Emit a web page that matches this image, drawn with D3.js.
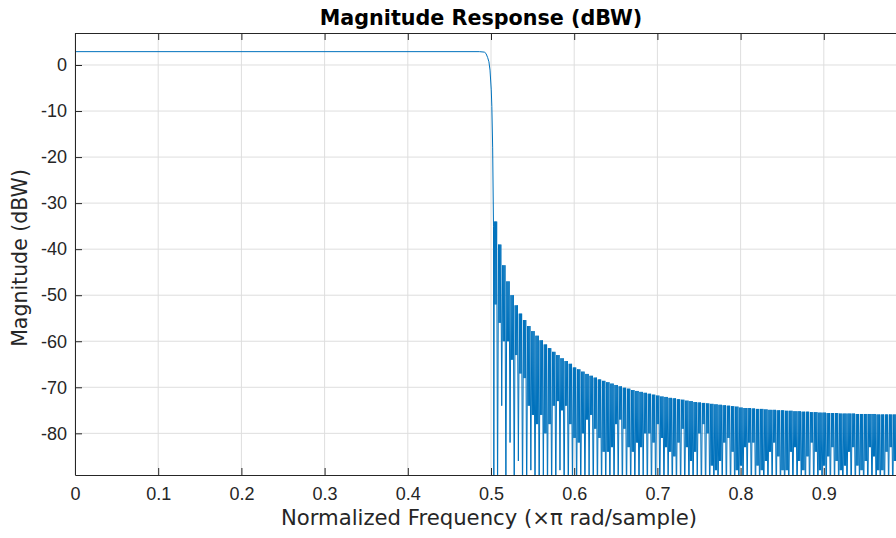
<!DOCTYPE html>
<html>
<head>
<meta charset="utf-8">
<script src="https://cdn.jsdelivr.net/npm/d3@7"></script>
<style>
    body { margin: 0; background: #fff; }
    svg { display: block; font-family: "DejaVu Sans", sans-serif; }
    .axis text { font-size: 18px; fill: #262626; }
    .axis path, .axis line { stroke: #262626; }
    .grid line { stroke: #dedede; }
    .axis-title { font-size: 21.2px; fill: #262626; }
    .chart-title { font-size: 20.7px; font-weight: bold; fill: #000; }
</style>
</head>
<body>
<svg id="chart"></svg>
<script>
// tick values and labels (the tick at 1 falls past the figure edge)
const xTicks = [0, 0.1, 0.2, 0.3, 0.4, 0.5, 0.6, 0.7, 0.8, 0.9, 1]
const xTickLabels = ['0', '0.1', '0.2', '0.3', '0.4', '0.5', '0.6', '0.7', '0.8', '0.9', '']
const yTicks = [0, -10, -20, -30, -40, -50, -60, -70, -80]
const yTickLabels = ['0', '-10', '-20', '-30', '-40', '-50', '-60', '-70', '-80']

// passband + transition (normalized freq, dBW)
const passFreq = [0, 0.486, 0.492, 0.494, 0.496, 0.4975, 0.4988, 0.5003, 0.501, 0.502, 0.503, 0.5034]
const passDb = [2.9, 2.9, 2.8, 2.5, 1.6, 0.7, -1.1, -5.4, -9, -18, -35, -95]

// stopband lobes: start freq of each lobe, lobe peak, bottom of the dense part, null depth
const lobeFreq = [
    0.504, 0.509, 0.514, 0.519, 0.524, 0.529, 0.534, 0.539, 0.544, 0.549,
    0.554, 0.559, 0.564, 0.569, 0.574, 0.579, 0.584, 0.589, 0.594, 0.599,
    0.604, 0.609, 0.614, 0.619, 0.624, 0.629, 0.634, 0.639, 0.644, 0.649,
    0.654, 0.659, 0.664, 0.669, 0.674, 0.679, 0.684, 0.689, 0.694, 0.699,
    0.704, 0.709, 0.714, 0.719, 0.724, 0.729, 0.734, 0.739, 0.744, 0.749,
    0.754, 0.759, 0.764, 0.769, 0.774, 0.779, 0.784, 0.789, 0.794, 0.799,
    0.804, 0.809, 0.814, 0.819, 0.824, 0.829, 0.834, 0.839, 0.844, 0.849,
    0.854, 0.859, 0.864, 0.869, 0.874, 0.879, 0.884, 0.889, 0.894, 0.899,
    0.904, 0.909, 0.914, 0.919, 0.924, 0.929, 0.934, 0.939, 0.944, 0.949,
    0.954, 0.959, 0.964, 0.969, 0.974, 0.979, 0.984, 0.989, 0.994, 0.999
]
const lobePeak = [
    -34, -39, -43.5, -47, -50, -52.2, -54, -55.4, -56.7, -57.8,
    -58.8, -59.8, -60.7, -61.5, -62.3, -63, -63.7, -64.3, -64.9, -65.7,
    -66.1, -66.6, -67.1, -67.5, -67.9, -68.3, -68.6, -68.9, -69.2, -69.5,
    -69.8, -70.1, -70.3, -70.6, -70.8, -71, -71.2, -71.4, -71.6, -71.8,
    -72, -72.1, -72.3, -72.4, -72.6, -72.7, -72.9, -73, -73.2, -73.3,
    -73.4, -73.5, -73.6, -73.7, -73.8, -73.9, -74, -74.1, -74.2, -74.4,
    -74.5, -74.5, -74.6, -74.7, -74.7, -74.8, -74.9, -74.9, -75, -75,
    -75.1, -75.1, -75.2, -75.2, -75.3, -75.3, -75.4, -75.4, -75.5, -75.5,
    -75.6, -75.6, -75.6, -75.7, -75.7, -75.7, -75.7, -75.8, -75.8, -75.8,
    -75.8, -75.8, -75.9, -75.9, -75.9, -75.9, -75.9, -76, -76, -76
]
const lobeBottom = [
    -52, -56, -60, -60, -64, -63, -67, -68, -74, -76,
    -78, -76, -80, -78, -74, -73, -75, -74, -78, -81,
    -82, -80, -77, -76, -79, -81, -84, -84, -83, -78,
    -77, -79, -83, -84, -82, -83, -80, -80, -82, -78,
    -81, -83, -84, -85, -82, -79, -83, -86, -84, -80,
    -78, -80, -87, -88, -86, -82, -81, -84, -88, -87,
    -83, -82, -82, -87, -88, -86, -84, -82, -85, -88,
    -88, -84, -83, -86, -88, -85, -82, -84, -88, -87,
    -85, -83, -86, -88, -87, -84, -83, -87, -88, -86,
    -83, -85, -88, -88, -84, -83, -86, -88, -87, -84
]
const lobeNull = [
    -95, -74, -95, -82, -95, -86, -95, -95, -88, -95,
    -95, -90, -95, -95, -95, -88, -95, -95, -92, -95,
    -95, -95, -90, -95, -95, -95, -95, -95, -95, -92,
    -95, -95, -95, -95, -95, -90, -95, -95, -95, -95,
    -95, -92, -95, -95, -95, -95, -95, -95, -91, -95,
    -95, -95, -95, -95, -93, -95, -95, -95, -95, -95,
    -92, -95, -95, -95, -95, -95, -93, -95, -95, -95,
    -95, -95, -95, -92, -95, -95, -95, -95, -95, -95,
    -95, -93, -95, -95, -95, -95, -95, -92, -95, -95,
    -95, -95, -95, -95, -93, -95, -95, -95, -95, -95
]

class MagnitudeResponse {

    constructor(_config) {
        this.config = {
            parentElement: _config.parentElement,
            containerWidth: _config.containerWidth || 896,
            containerHeight: _config.containerHeight || 538,
            // axes run past the right edge of the figure
            margin: { top: 33, right: -11, bottom: 63, left: 75 },
            tickLength: 7
        }
        this.initVis()
    }

    initVis() {
        let vis = this

        vis.width = vis.config.containerWidth - vis.config.margin.left - vis.config.margin.right
        vis.height = vis.config.containerHeight - vis.config.margin.top - vis.config.margin.bottom

        vis.svg = d3.select(vis.config.parentElement)
            .attr('width', vis.config.containerWidth)
            .attr('height', vis.config.containerHeight)

        vis.chart = vis.svg.append('g')
            .attr('transform', `translate(${vis.config.margin.left}, ${vis.config.margin.top})`)

        vis.xScale = d3.scaleLinear()
            .domain([0, 1])
            .range([0, vis.width])

        vis.yScale = d3.scaleLinear()
            .domain([-89.05, 6.95])
            .range([vis.height, 0])

        vis.svg.append('defs').append('clipPath')
            .attr('id', 'plot-clip')
            .append('rect')
            .attr('width', vis.width)
            .attr('height', vis.height)

        vis.gridGroup = vis.chart.append('g').attr('class', 'grid')
        vis.lineGroup = vis.chart.append('g').attr('clip-path', 'url(#plot-clip)')

        vis.chart.append('text')
            .attr('class', 'chart-title')
            .attr('x', 406)
            .attr('y', -8)
            .attr('text-anchor', 'middle')
            .text('Magnitude Response (dBW)')

        vis.chart.append('text')
            .attr('class', 'axis-title')
            .attr('x', 414)
            .attr('y', vis.height + 50)
            .attr('text-anchor', 'middle')
            .text('Normalized Frequency (\u00d7\u03c0 rad/sample)')

        vis.chart.append('text')
            .attr('class', 'axis-title')
            .attr('transform', `translate(-48, ${vis.height / 2 + 4}) rotate(-90)`)
            .attr('text-anchor', 'middle')
            .style('font-size', '20.5px')
            .text('Magnitude (dBW)')
    }

    updateVis() {
        let vis = this

        // one polyline: passband, then each lobe drawn as dense strokes
        // peak/bottom alternating, ending in its null
        vis.points = passFreq.map((f, i) => [f, passDb[i]])
        lobeFreq.forEach((f, i) => {
            vis.points.push([f, lobePeak[i]])
            vis.points.push([f + 0.0007, lobeBottom[i]])
            vis.points.push([f + 0.0014, lobePeak[i]])
            vis.points.push([f + 0.0021, lobeBottom[i]])
            vis.points.push([f + 0.0028, lobePeak[i]])
            vis.points.push([f + 0.0039, lobeNull[i]])
        })

        vis.renderVis()
    }

    renderVis() {
        let vis = this
        const tl = vis.config.tickLength

        vis.gridGroup.selectAll('.gx')
            .data(xTicks)
            .join('line')
                .attr('class', 'gx')
                .attr('x1', d => vis.xScale(d))
                .attr('x2', d => vis.xScale(d))
                .attr('y1', 0)
                .attr('y2', vis.height)

        vis.gridGroup.selectAll('.gy')
            .data(yTicks)
            .join('line')
                .attr('class', 'gy')
                .attr('x1', 0)
                .attr('x2', vis.width)
                .attr('y1', d => vis.yScale(d))
                .attr('y2', d => vis.yScale(d))

        const line = d3.line()
            .x(d => vis.xScale(d[0]))
            .y(d => vis.yScale(d[1]))

        vis.lineGroup.selectAll('.response')
            .data([vis.points])
            .join('path')
                .attr('class', 'response')
                .attr('fill', 'none')
                .attr('stroke', '#0072BD')
                .attr('stroke-width', 1)
                .attr('stroke-linejoin', 'bevel')
                .attr('d', line)

        vis.chart.append('g')
            .attr('class', 'axis x-axis')
            .attr('transform', `translate(0, ${vis.height})`)
            .call(d3.axisBottom(vis.xScale)
                .tickValues(xTicks)
                .tickFormat((d, i) => xTickLabels[i])
                .tickSize(-tl).tickSizeOuter(0).tickPadding(12))

        vis.chart.append('g')
            .attr('class', 'axis x-axis-top')
            .call(d3.axisTop(vis.xScale)
                .tickValues(xTicks)
                .tickFormat('')
                .tickSize(-tl).tickSizeOuter(0))

        vis.chart.append('g')
            .attr('class', 'axis y-axis')
            .call(d3.axisLeft(vis.yScale)
                .tickValues(yTicks)
                .tickFormat((d, i) => yTickLabels[i])
                .tickSize(-tl).tickSizeOuter(0).tickPadding(8))

        vis.chart.append('g')
            .attr('class', 'axis y-axis-right')
            .attr('transform', `translate(${vis.width}, 0)`)
            .call(d3.axisRight(vis.yScale)
                .tickValues(yTicks)
                .tickFormat('')
                .tickSize(-tl).tickSizeOuter(0))

        vis.chart.selectAll('.axis text').attr('font-family', null).attr('font-size', null)
    }
}

const chart = new MagnitudeResponse({ parentElement: '#chart' })
chart.updateVis()
</script>
</body>
</html>
